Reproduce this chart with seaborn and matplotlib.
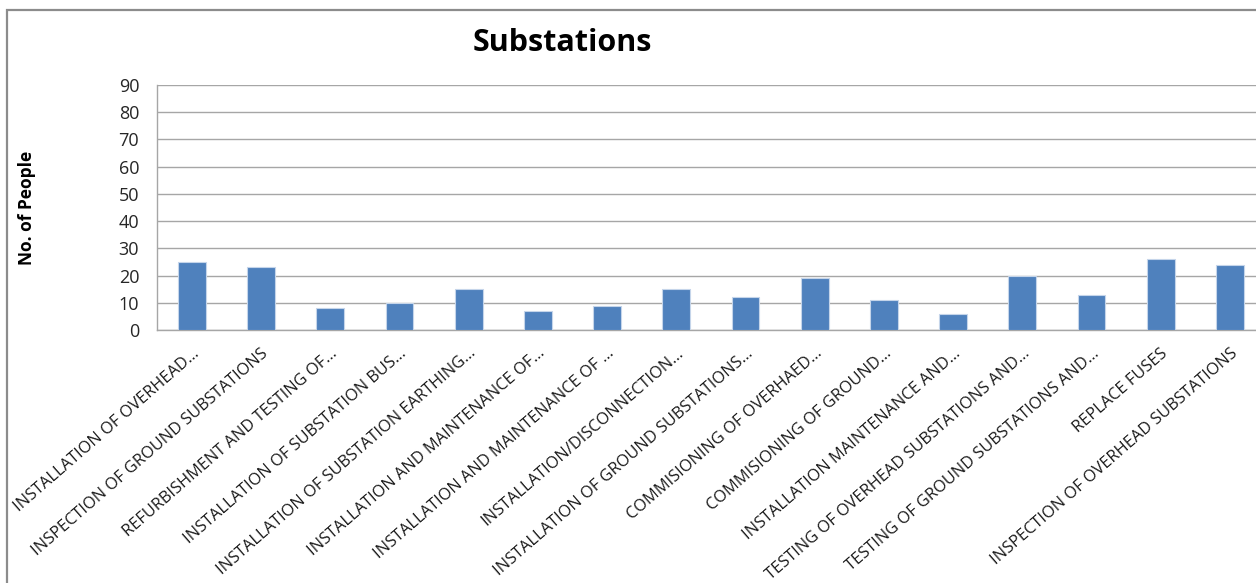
import matplotlib
matplotlib.use("Agg")
import matplotlib.pyplot as plt
from matplotlib.patches import Rectangle
from matplotlib.ticker import FixedLocator
import seaborn as sns
import pandas as pd
import numpy as np

# Activity names (as shown on the axis, long ones shortened with an ellipsis)
activities = [
    "INSTALLATION OF OVERHEAD…",
    "INSPECTION OF GROUND SUBSTATIONS",
    "REFURBISHMENT AND TESTING OF…",
    "INSTALLATION OF SUBSTATION BUS…",
    "INSTALLATION OF SUBSTATION EARTHING…",
    "INSTALLATION AND MAINTENANCE OF…",
    "INSTALLATION AND MAINTENANCE OF …",
    "INSTALLATION/DISCONNECTION…",
    "INSTALLATION OF GROUND SUBSTATIONS…",
    "COMMISIONING OF OVERHAED…",
    "COMMISIONING OF GROUND…",
    "INSTALLATION MAINTENANCE AND…",
    "TESTING OF OVERHEAD SUBSTATIONS AND…",
    "TESTING OF GROUND SUBSTATIONS AND…",
    "REPLACE FUSES",
    "INSPECTION OF OVERHEAD SUBSTATIONS",
]
people = [25, 23, 8, 10, 15, 7, 9, 15, 12, 19, 11, 6, 20, 13, 26, 24]
y_ticks = [0, 10, 20, 30, 40, 50, 60, 70, 80, 90]

df = pd.DataFrame({"activity": activities, "people": people})

sns.set_theme(style="white")
plt.rcParams["font.family"] = ["Open Sans", "DejaVu Sans"]

W, H = 1256, 583
fig = plt.figure(figsize=(W / 100, H / 100), dpi=100)
fig.patch.set_facecolor("white")

# Chart frame
fig.patches.append(Rectangle((7 / W, -0.1), 1.2, 1.1 - 10 / H, transform=fig.transFigure,
                             fill=False, edgecolor="#8c8c8c", linewidth=1.6, zorder=0))

ax = fig.add_axes([157.3 / W, 1 - 330 / H, (1264.5 - 157.3) / W, (330 - 85) / H])
ax.set_facecolor("none")

sns.barplot(data=df, x="activity", y="people", color="#4F81BD", width=0.4,
            edgecolor="#c5d5ea", linewidth=0.8, saturation=1, ax=ax, zorder=3)

n = len(activities)
ax.set_xlim(-0.5, n - 0.5)
ax.set_ylim(0, 90)
ax.yaxis.set_major_locator(FixedLocator(y_ticks))
ax.grid(axis="y", color="#a6a6a6", linewidth=1.0, zorder=0)
ax.set_axisbelow(True)

for side in ("top", "right"):
    ax.spines[side].set_visible(False)
for side in ("left", "bottom"):
    ax.spines[side].set_color("#a6a6a6")
    ax.spines[side].set_linewidth(1.0)

# Category boundaries carry the tick marks, centres carry the labels
ax.xaxis.set_minor_locator(FixedLocator(np.arange(-0.5, n, 1.0)))
ax.tick_params(axis="x", which="minor", length=6, width=1, color="#a6a6a6", direction="out")
ax.tick_params(axis="x", which="major", length=0, pad=11)
ax.tick_params(axis="y", which="major", length=6, width=1, color="#a6a6a6", direction="out",
               labelsize=13, labelcolor="#262626", pad=7)
ax.set_xticks(range(n))
ax.set_xticklabels(activities, rotation=41, ha="right", rotation_mode="anchor",
                   fontsize=11.8, color="#1a1a1a")
ax.set_xlabel("")
ax.set_ylabel("")

fig.text(562 / W, 1 - 43 / H, "Substations", ha="center", va="center",
         fontsize=22, fontweight="bold", color="#000000")
fig.text(27 / W, 1 - 208 / H, "No. of People", ha="center", va="center", rotation=90,
         fontsize=12.5, fontweight="bold", color="#000000")

fig.savefig("out.png", dpi=100, facecolor="white")
